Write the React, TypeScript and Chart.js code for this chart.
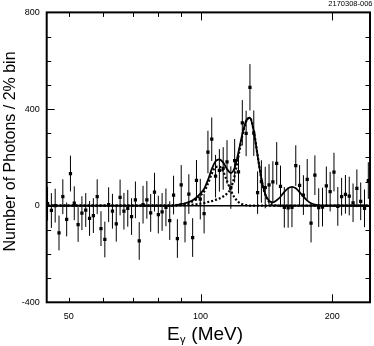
import React, { useEffect, useRef } from 'react';
import { Chart, registerables } from 'chart.js';

Chart.register(...registerables);

// Photon energy bin centres (MeV), 2% bins
const binEnergy = [
  44.70, 45.61, 46.53, 47.48, 48.44, 49.43, 50.43, 51.45, 52.50, 53.56,
  54.65, 55.76, 56.89, 58.05, 59.22, 60.43, 61.65, 62.90, 64.18, 65.48,
  66.82, 68.18, 69.56, 70.98, 72.42, 73.89, 75.39, 76.92, 78.48, 80.08,
  81.69, 83.35, 85.04, 86.77, 88.53, 90.33, 92.16, 94.03, 95.94, 97.89,
  99.87, 101.90, 103.97, 106.08, 108.23, 110.43, 112.67, 114.96, 117.29, 119.67,
  122.12, 124.60, 127.13, 129.71, 132.34, 135.03, 137.77, 140.57, 143.42, 146.33,
  149.31, 152.34, 155.43, 158.59, 161.81, 165.09, 168.44, 171.86, 175.35, 178.91,
  182.55, 186.26, 190.04, 193.90, 197.83, 201.85, 205.95, 210.13, 214.40, 218.75,
  223.18, 227.71, 232.34, 237.05, 241.86,
];

// Number of photons per bin
const counts = [
  8, -20, 0, -113, 37, -57, 133, 10, -78, -31,
  -18, -53, -41, 37, -95, -140, 4, -23, -75, 34,
  -23, -11, -45, 24, -146, 4, 24, -30, 56, -37,
  -26, -7, -62, 44, -136, 86, -72, 48, -132, 105,
  27, -33, 222, 275, 122, 146, 154, 181, 75, 186,
  140, 343, 299, 490, 300, 54, 100, 75, 86, 98,
  175, 80, -7, -9, -7, 166, 84, 44, 109, -72,
  126, -8, -6, 82, 58, 139, -3, 37, 47, 40,
  12, 72, 18, -11, 104,
];

// Symmetric statistical errors per bin
const errors = [
  70, 72, 70, 72, 72, 70, 74, 70, 72, 70,
  70, 72, 72, 72, 72, 74, 72, 72, 74, 74,
  76, 76, 76, 76, 78, 78, 78, 78, 80, 78,
  78, 78, 80, 80, 80, 82, 80, 82, 80, 84,
  84, 82, 88, 90, 88, 88, 88, 90, 88, 90,
  90, 94, 94, 96, 94, 88, 88, 86, 86, 86,
  88, 86, 84, 82, 82, 84, 84, 82, 84, 80,
  82, 80, 80, 80, 82, 80, 80, 78, 80, 80,
  80, 78, 78, 78, 76,
];

// Total fit (solid)
const fitTotal = [
  0, 0, 0, 0, 0, 0, 0, 0, 0, 0,
  0, 0, 0, 0, 0, 0, 0, 0, 0, 0,
  0, 0, 0, 0, 0, 0, 0, 0, 0, 0,
  0, 0, 0, 0, 3, 6, 10, 15, 22, 34,
  50, 69, 106, 151, 184, 192, 178, 152, 135, 157,
  221, 296, 351, 364, 308, 208, 111, 48, 20, 14,
  22, 37, 57, 72, 78, 72, 56, 37, 21, 10,
  4, 2, 0, 0, 0, 0, 0, 0, 0, 0,
  0, 0, 0, 0, 0,
];

// First peak component (dotted)
const fitPeak1 = [
  0, 0, 0, 0, 0, 0, 0, 0, 0, 0,
  0, 0, 0, 0, 0, 0, 0, 0, 0, 0,
  0, 0, 0, 0, 0, 0, 0, 0, 0, 0,
  0, 0, 0, 0, 3, 5, 8, 12, 18, 28,
  42, 58, 91, 132, 160, 162, 140, 102, 63, 33,
  15, 6, 2, 0, 0, 0, 0, 0, 0, 0,
  0, 0, 0, 0, 0, 0, 0, 0, 0, 0,
  0, 0, 0, 0, 0, 0, 0, 0, 0, 0,
  0, 0, 0, 0, 0,
];

// Second peak component (dotted)
const fitPeak2 = [
  0, 0, 0, 0, 0, 0, 0, 0, 0, 0,
  0, 0, 0, 0, 0, 0, 0, 0, 0, 0,
  0, 0, 0, 0, 0, 0, 0, 0, 0, 0,
  0, 0, 0, 0, 0, 1, 2, 3, 4, 6,
  8, 11, 15, 19, 24, 30, 38, 50, 72, 124,
  206, 290, 349, 364, 308, 208, 111, 46, 16, 4,
  1, 0, 0, 0, 0, 0, 0, 0, 0, 0,
  0, 0, 0, 0, 0, 0, 0, 0, 0, 0,
  0, 0, 0, 0, 0,
];

const xMin = 44.5;
const xMax = 244;
const yMin = -400;
const yMax = 800;
const xTickValues = [50, 60, 70, 80, 90, 100, 200];
const xMajorTicks = [100, 200];
const xLabelValues = [50, 100, 200];
const yTickValues = [-300, -200, -100, 0, 100, 200, 300, 400, 500, 600, 700];
const yLabelValues = [-400, 0, 400, 800];
const yTitle = 'Number of Photons / 2% bin';
const xTitleMain = 'E';
const xTitleSub = 'γ';
const xTitleRest = ' (MeV)';
const figureTag = '2170308-006';

const FONT = '"Liberation Sans", Arial, Helvetica, sans-serif';

const decorPlugin = {
  id: 'decor',
  beforeDatasetsDraw(chart: any) {
    const { ctx, chartArea: a, scales } = chart;
    const xs = scales.x;
    const ys = scales.y;
    ctx.save();
    ctx.strokeStyle = '#000';
    ctx.lineWidth = 1;
    binEnergy.forEach((e, i) => {
      const px = xs.getPixelForValue(e);
      ctx.beginPath();
      ctx.moveTo(px, ys.getPixelForValue(counts[i] - errors[i]));
      ctx.lineTo(px, ys.getPixelForValue(counts[i] + errors[i]));
      ctx.stroke();
    });
    const y0 = ys.getPixelForValue(0);
    ctx.lineWidth = 1.5;
    ctx.beginPath();
    ctx.moveTo(a.left, y0);
    ctx.lineTo(a.right, y0);
    ctx.stroke();
    ctx.restore();
  },
  afterDraw(chart: any) {
    const { ctx, chartArea: a, scales } = chart;
    const xs = scales.x;
    const ys = scales.y;
    ctx.save();
    ctx.strokeStyle = '#000';
    ctx.lineWidth = 2;
    ctx.strokeRect(a.left, a.top, a.right - a.left, a.bottom - a.top);
    ctx.lineWidth = 1;
    xTickValues.forEach((v) => {
      const px = Math.round(xs.getPixelForValue(v)) + 0.5;
      const len = xMajorTicks.includes(v) ? 8 : 4.5;
      ctx.beginPath();
      ctx.moveTo(px, a.bottom);
      ctx.lineTo(px, a.bottom - len);
      ctx.moveTo(px, a.top);
      ctx.lineTo(px, a.top + len);
      ctx.stroke();
    });
    yTickValues.forEach((v) => {
      const py = Math.round(ys.getPixelForValue(v)) + 0.5;
      const len = yLabelValues.includes(v) ? 8 : 4.5;
      ctx.beginPath();
      ctx.moveTo(a.left, py);
      ctx.lineTo(a.left + len, py);
      ctx.moveTo(a.right, py);
      ctx.lineTo(a.right - len, py);
      ctx.stroke();
    });
    ctx.fillStyle = '#000';
    ctx.save();
    ctx.translate(14.5, 151.5);
    ctx.rotate(-Math.PI / 2);
    ctx.font = `16px ${FONT}`;
    ctx.textAlign = 'center';
    ctx.textBaseline = 'alphabetic';
    ctx.fillText(yTitle, 0, 0);
    ctx.restore();
    const mainFont = `19px ${FONT}`;
    const subFont = `11px ${FONT}`;
    ctx.textBaseline = 'alphabetic';
    ctx.textAlign = 'left';
    ctx.font = mainFont;
    const wE = ctx.measureText(xTitleMain).width;
    const wR = ctx.measureText(xTitleRest).width;
    ctx.font = subFont;
    const wS = ctx.measureText(xTitleSub).width;
    const total = wE + wS + 1 + wR;
    const cx = 205;
    let tx = cx - total / 2;
    const base = 340;
    ctx.font = mainFont;
    ctx.fillText(xTitleMain, tx, base);
    tx += wE + 0.5;
    ctx.font = subFont;
    ctx.fillText(xTitleSub, tx, base + 2.5);
    tx += wS + 0.5;
    ctx.font = mainFont;
    ctx.fillText(xTitleRest, tx, base);
    ctx.font = `7.5px ${FONT}`;
    ctx.textAlign = 'right';
    ctx.fillText(figureTag, 372.5, 6);
    ctx.restore();
  },
};

export default function App() {
  const ref = useRef<HTMLCanvasElement | null>(null);
  useEffect(() => {
    if (!ref.current) return;
    const pts = binEnergy.map((e, i) => ({ x: e, y: counts[i] }));
    const line = (arr: number[]) => binEnergy.map((e, i) => ({ x: e, y: arr[i] }));
    const chart = new Chart(ref.current, {
      type: 'scatter',
      data: {
        datasets: [
          {
            data: pts,
            showLine: false,
            pointStyle: 'rect',
            pointRadius: 2.3,
            pointBorderWidth: 0,
            pointBackgroundColor: '#000',
            borderColor: '#000',
          },
          {
            data: line(fitTotal),
            showLine: true,
            pointRadius: 0,
            borderColor: '#000',
            borderWidth: 1.8,
            cubicInterpolationMode: 'monotone',
          },
          {
            data: line(fitPeak1),
            showLine: true,
            pointRadius: 0,
            borderColor: '#000',
            borderWidth: 2.2,
            borderDash: [2, 2],
            cubicInterpolationMode: 'monotone',
          },
          {
            data: line(fitPeak2),
            showLine: true,
            pointRadius: 0,
            borderColor: '#000',
            borderWidth: 2.2,
            borderDash: [2, 2],
            cubicInterpolationMode: 'monotone',
          },
        ],
      },
      options: {
        responsive: false,
        animation: false,
        events: [],
        layout: { padding: { top: 10.7, right: 1.7, left: 0, bottom: 0 } },
        plugins: { legend: { display: false }, tooltip: { enabled: false } },
        scales: {
          x: {
            type: 'logarithmic',
            min: xMin,
            max: xMax,
            grid: { display: false, drawTicks: false },
            border: { display: false },
            afterBuildTicks: (s: any) => {
              s.ticks = xLabelValues.map((v) => ({ value: v }));
            },
            afterFit: (s: any) => {
              s.height = 43.7;
            },
            ticks: {
              autoSkip: false,
              maxRotation: 0,
              padding: 9,
              color: '#000',
              font: { family: FONT, size: 9 },
              callback: (v: any) => String(v),
            },
          },
          y: {
            type: 'linear',
            min: yMin,
            max: yMax,
            grid: { display: false, drawTicks: false },
            border: { display: false },
            afterBuildTicks: (s: any) => {
              s.ticks = yLabelValues.map((v) => ({ value: v }));
            },
            afterFit: (s: any) => {
              s.width = 46.7;
            },
            ticks: {
              padding: 7,
              color: '#000',
              font: { family: FONT, size: 9 },
              callback: (v: any) => String(v),
            },
          },
        },
      },
      plugins: [decorPlugin],
    });
    return () => chart.destroy();
  }, []);
  return (
    <div style={{ position: 'absolute', left: 0, top: 0, width: 374, height: 346, background: '#fff' }}>
      <canvas ref={ref} width={374} height={346} />
    </div>
  );
}
